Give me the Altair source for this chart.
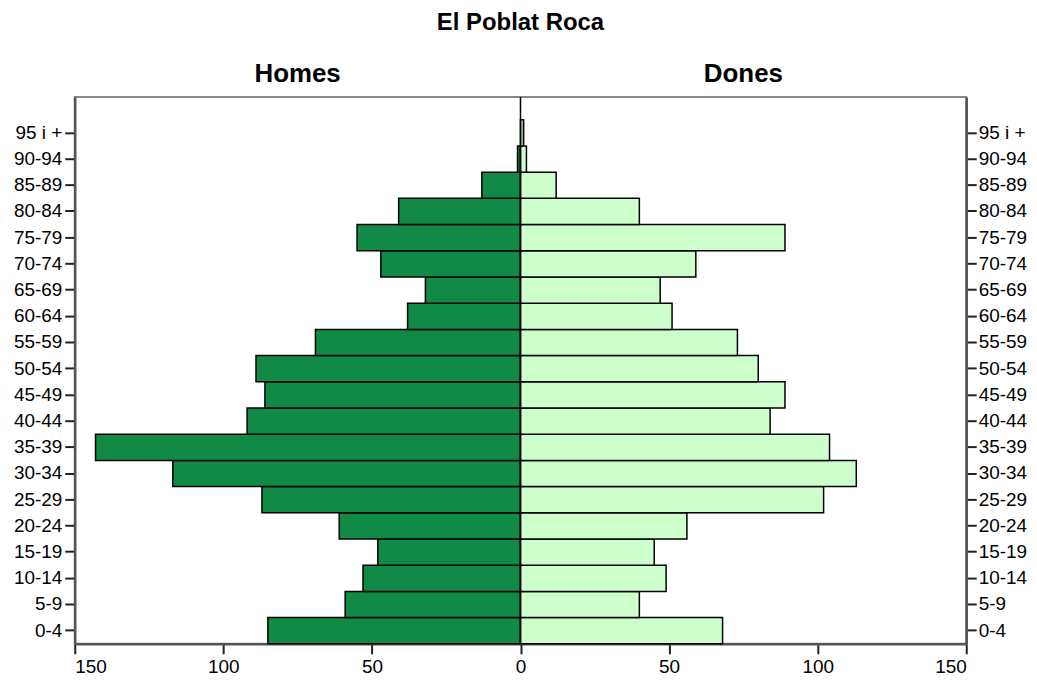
import altair as alt
import pandas as pd

ages = ["0-4", "5-9", "10-14", "15-19", "20-24", "25-29", "30-34", "35-39",
        "40-44", "45-49", "50-54", "55-59", "60-64", "65-69", "70-74", "75-79",
        "80-84", "85-89", "90-94", "95 i +"]
homes = [85, 59, 53, 48, 61, 87, 117, 143, 92, 86, 89, 69, 38, 32, 47, 55, 41, 13, 1, 0]
dones = [68, 40, 49, 45, 56, 102, 113, 104, 84, 89, 80, 73, 51, 47, 59, 89, 40, 12, 2, 1]
sexes = ["Homes", "Dones"]
colors = ["#118A45", "#CCFFCC"]
x_ticks = [-150, -100, -50, 0, 50, 100, 150]
title_text = "El Poblat Roca"

rows = []
for a, h, d in zip(ages, homes, dones):
    rows.append({"age": a, "sex": "Homes", "value": -h})
    rows.append({"age": a, "sex": "Dones", "value": d})
df = pd.DataFrame(rows)
order = ages[::-1]

FONT = "Liberation Sans"

xs = alt.Scale(domain=[-150, 150], nice=False, zero=False)
xaxis = alt.Axis(values=x_ticks, labelExpr="abs(datum.value)", title=None,
                 grid=False, labelPadding=4)


def yscale():
    return alt.Scale(domain=order, paddingInner=0, paddingOuter=0.435, align=1)


bars = alt.Chart(df).mark_bar(stroke="black", strokeWidth=1.5).encode(
    x=alt.X("value:Q", scale=xs, axis=xaxis),
    y=alt.Y("age:N", sort=order, scale=yscale(),
            axis=alt.Axis(title=None, orient="left", labelPadding=3)),
    color=alt.Color("sex:N", scale=alt.Scale(domain=sexes, range=colors), legend=None),
)

right_axis = alt.Chart(df).mark_bar(opacity=0, strokeOpacity=0).encode(
    x=alt.X("value:Q", scale=xs, axis=xaxis),
    y=alt.Y("age:N", sort=order, scale=yscale(),
            axis=alt.Axis(title=None, orient="right", labelPadding=2)),
)

center = alt.Chart(pd.DataFrame({"value": [0]})).mark_rule(color="black", strokeWidth=1.5).encode(
    x=alt.X("value:Q", scale=xs, axis=xaxis)
)

headers = alt.Chart(pd.DataFrame({"label": sexes, "value": [-75, 75]})).mark_text(
    font=FONT, fontSize=26, fontWeight="bold", baseline="alphabetic", color="black"
).encode(
    x=alt.X("value:Q", scale=xs, axis=xaxis),
    y=alt.value(-15),
    text="label:N",
)

chart = alt.layer(bars, center, headers, right_axis).resolve_scale(y="independent").properties(
    width=895,
    height=549,
    title=alt.Title(title_text, font=FONT, fontSize=24, fontWeight="bold", color="black",
                    anchor="middle", offset=26),
    padding={"left": 5, "top": 2, "right": 2, "bottom": 0},
).configure_view(
    stroke="#888888", strokeWidth=2
).configure_axis(
    domainColor="#555555", domainWidth=2.5, tickColor="#222222", tickWidth=2,
    tickSize=10, labelFont=FONT, labelFontSize=19, labelColor="black",
)

chart.save("out.html", embed_options={"renderer": "svg", "actions": False})
